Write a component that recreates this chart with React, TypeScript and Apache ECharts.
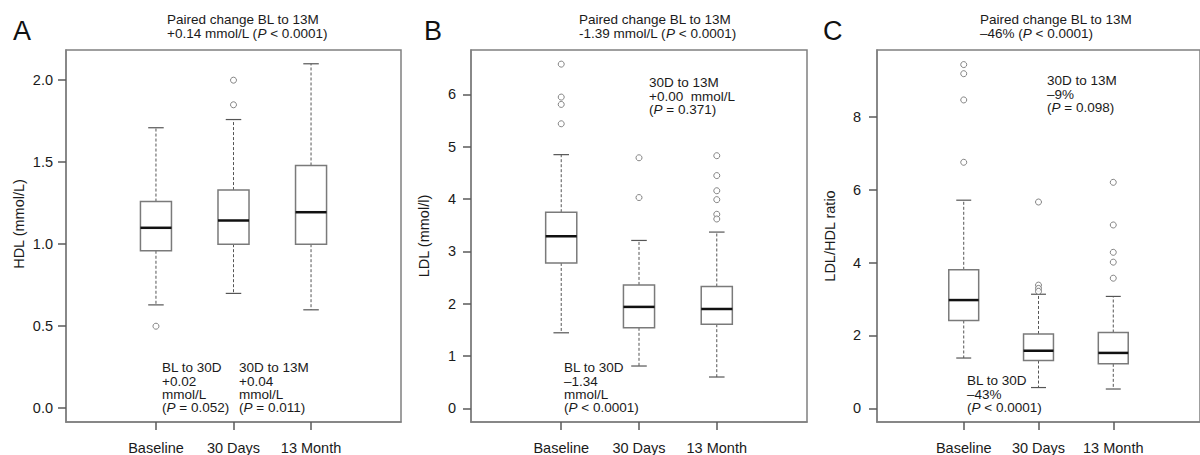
import React, { useEffect, useRef } from "react";
import * as echarts from "echarts";

// ---------- data ----------
const categories = ["Baseline", "30 Days", "13 Month"];
const categoryPositions = [1, 2, 3];

// [lower whisker, Q1, median, Q3, upper whisker]
const hdlBoxes = [
  [0.63, 0.96, 1.1, 1.26, 1.71],
  [0.7, 1.0, 1.145, 1.33, 1.76],
  [0.6, 1.0, 1.195, 1.48, 2.1],
];
const hdlOutliers = [
  [1, 0.5],
  [2, 2.0],
  [2, 1.85],
];

const ldlBoxes = [
  [1.445, 2.78, 3.29, 3.75, 4.85],
  [0.81, 1.54, 1.94, 2.36, 3.21],
  [0.6, 1.61, 1.9, 2.33, 3.37],
];
const ldlOutliers = [
  [1, 6.58], [1, 5.95], [1, 5.81], [1, 5.44],
  [2, 4.79], [2, 4.03],
  [3, 4.83], [3, 4.45], [3, 4.16], [3, 3.99], [3, 3.71], [3, 3.62],
];

const ratioBoxes = [
  [1.38, 2.41, 2.97, 3.8, 5.71],
  [0.57, 1.31, 1.58, 2.04, 3.13],
  [0.53, 1.22, 1.52, 2.08, 3.07],
];
const ratioOutliers = [
  [1, 9.43], [1, 9.18], [1, 8.46], [1, 6.75],
  [2, 5.66], [2, 3.38], [2, 3.29], [2, 3.21],
  [3, 6.2], [3, 5.03], [3, 4.28], [3, 4.01], [3, 3.57],
];

const hdlTicks = [0, 0.5, 1, 1.5, 2];
const ldlTicks = [0, 1, 2, 3, 4, 5, 6];
const ratioTicks = [0, 2, 4, 6, 8];

// ---------- styling ----------
const FONT = "'Liberation Sans', Arial, Helvetica, sans-serif";
const FRAME = "#808080";
const TICK = "#5a5a5a";
const BOXLINE = "#7a7a7a";
const TEXT = "#1a1a1a";
const NOTE_SIZE = 13.5;
const X_MIN = -0.16;
const X_MAX = 4.16;

function App() {
  const ref = useRef<HTMLDivElement>(null);

  useEffect(() => {
    document.body.style.margin = "0";
    if (!ref.current) return;
    const chart = echarts.init(ref.current, undefined, { renderer: "svg" });

    const panels = [
      {
        left: 66, width: 335, min: -0.084, max: 2.184, ticks: hdlTicks,
        fmt: (v: number) => v.toFixed(1), name: "HDL (mmol/L)", labelMargin: 13,
        namePad: [0, 0, 0, 24],
        boxes: hdlBoxes, outliers: hdlOutliers,
      },
      {
        left: 471, width: 336, min: -0.26, max: 6.85, ticks: ldlTicks,
        fmt: (v: number) => String(v), name: "LDL (mmol/l)", labelMargin: 15,
        namePad: 0,
        boxes: ldlBoxes, outliers: ldlOutliers,
      },
      {
        left: 877, width: 336, min: -0.375, max: 9.83, ticks: ratioTicks,
        fmt: (v: number) => String(v), name: "LDL/HDL ratio", labelMargin: 16,
        namePad: 0,
        boxes: ratioBoxes, outliers: ratioOutliers,
      },
    ];

    const grid = panels.map((p) => ({
      left: p.left, width: p.width, top: 50, height: 372,
      show: true, borderColor: FRAME, borderWidth: 1.5,
    }));

    const xAxis = panels.map((p, i) => ({
      type: "value",
      gridIndex: i,
      min: X_MIN,
      max: X_MAX,
      splitLine: { show: false },
      axisLine: { show: true, onZero: false, lineStyle: { color: FRAME, width: 1.5 } },
      axisTick: { show: true, length: 8, customValues: categoryPositions, lineStyle: { color: TICK, width: 1.5 } },
      axisLabel: {
        customValues: categoryPositions,
        formatter: (v: number) => categories[categoryPositions.indexOf(v)] ?? "",
        margin: 18, fontSize: 14.5, fontFamily: FONT, color: TEXT,
      },
    }));

    const yAxis = panels.map((p, i) => ({
      type: "value",
      gridIndex: i,
      min: p.min,
      max: p.max,
      name: p.name,
      nameLocation: "middle",
      nameGap: 40,
      nameTextStyle: { fontSize: 14.5, fontFamily: FONT, color: TEXT, padding: p.namePad },
      splitLine: { show: false },
      axisLine: { show: true, onZero: false, lineStyle: { color: FRAME, width: 1.5 } },
      axisTick: { show: true, length: 8, customValues: p.ticks, lineStyle: { color: TICK, width: 1.5 } },
      axisLabel: {
        customValues: p.ticks, formatter: p.fmt, margin: p.labelMargin,
        fontSize: 14.5, fontFamily: FONT, color: TEXT,
      },
    }));

    const renderBox = (params: any, api: any) => {
      const x = api.value(0);
      const lo = api.coord([x, api.value(1)]);
      const q1 = api.coord([x, api.value(2)]);
      const med = api.coord([x, api.value(3)]);
      const q3 = api.coord([x, api.value(4)]);
      const hi = api.coord([x, api.value(5)]);
      const bw = api.size([0.4, 0])[0];
      const cw = bw / 2;
      const cx = q1[0];
      const dash = { stroke: "#555", lineWidth: 1, lineDash: [3, 2] };
      const cap = { stroke: "#555", lineWidth: 1.2 };
      return {
        type: "group",
        children: [
          { type: "line", shape: { x1: cx, y1: q3[1], x2: cx, y2: hi[1] }, style: dash },
          { type: "line", shape: { x1: cx, y1: q1[1], x2: cx, y2: lo[1] }, style: dash },
          { type: "line", shape: { x1: cx - cw / 2, y1: hi[1], x2: cx + cw / 2, y2: hi[1] }, style: cap },
          { type: "line", shape: { x1: cx - cw / 2, y1: lo[1], x2: cx + cw / 2, y2: lo[1] }, style: cap },
          {
            type: "rect",
            shape: { x: cx - bw / 2, y: q3[1], width: bw, height: q1[1] - q3[1] },
            style: { fill: "#fff", stroke: BOXLINE, lineWidth: 1.5 },
          },
          { type: "line", shape: { x1: cx - bw / 2, y1: med[1], x2: cx + bw / 2, y2: med[1] }, style: { stroke: "#111", lineWidth: 2.5 } },
        ],
      };
    };

    const series: any[] = [];
    panels.forEach((p, i) => {
      series.push({
        type: "custom",
        xAxisIndex: i,
        yAxisIndex: i,
        renderItem: renderBox,
        encode: { x: 0, y: [1, 2, 3, 4, 5] },
        data: p.boxes.map((b, k) => [categoryPositions[k], ...b]),
        z: 2,
      });
      series.push({
        type: "scatter",
        xAxisIndex: i,
        yAxisIndex: i,
        symbol: "circle",
        symbolSize: 6,
        itemStyle: { color: "#fff", borderColor: "#666", borderWidth: 1 },
        data: p.outliers,
        z: 3,
      });
    });

    const txt = (text: string, left: number, top: number, lh = 13.4) => ({
      text,
      left,
      top,
      padding: 0,
      textStyle: {
        fontSize: NOTE_SIZE, fontFamily: FONT, color: TEXT, fontWeight: "normal",
        lineHeight: lh,
        rich: { i: { fontStyle: "italic", fontFamily: FONT, fontSize: NOTE_SIZE, color: TEXT, lineHeight: lh } },
      },
    });

    const letter = (text: string, left: number) => ({
      text, left, top: 17, padding: 0,
      textStyle: { fontSize: 27, fontFamily: FONT, color: "#111", fontWeight: "normal", lineHeight: 27 },
    });

    const title = [
      letter("A", 13),
      letter("B", 424),
      letter("C", 823),
      txt("Paired change BL to 13M\n+0.14 mmol/L ({i|P} < 0.0001)", 167, 12, 14),
      txt("Paired change BL to 13M\n-1.39 mmol/L ({i|P} < 0.0001)", 579, 12, 14),
      txt("Paired change BL to 13M\n–46% ({i|P} < 0.0001)", 980, 12, 14),
      txt("BL to 30D\n+0.02\nmmol/L\n({i|P} = 0.052)", 162, 361),
      txt("30D to 13M\n+0.04\nmmol/L\n({i|P} = 0.011)", 239, 361),
      txt("30D to 13M\n+0.00  mmol/L\n({i|P} = 0.371)", 649, 76),
      txt("BL to 30D\n–1.34\nmmol/L\n({i|P} < 0.0001)", 564, 361),
      txt("30D to 13M\n–9%\n({i|P} = 0.098)", 1047, 74),
      txt("BL to 30D\n–43%\n({i|P} < 0.0001)", 967, 374),
    ];

    chart.setOption({
      animation: false,
      textStyle: { fontFamily: FONT },
      title,
      grid,
      xAxis,
      yAxis,
      series,
    });

    return () => chart.dispose();
  }, []);

  return <div ref={ref} style={{ width: 1200, height: 455, background: "#fff" }} />;
}

export default App;
